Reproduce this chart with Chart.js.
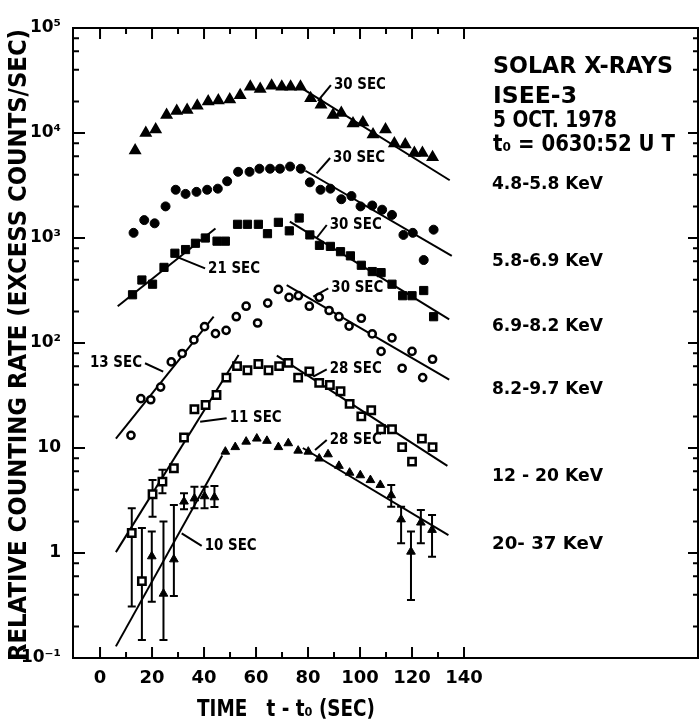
<!DOCTYPE html>
<html>
<head>
<meta charset="utf-8">
<script src="https://cdn.jsdelivr.net/npm/chart.js@4.4.1/dist/chart.umd.min.js"></script>
<style>
body{margin:0;background:#fff}
canvas{display:block}
</style>
</head>
<body>
<canvas id="c" width="699" height="726"></canvas>
<script>
// energy bands, top to bottom
const bandNames = ['4.8-5.8 KeV', '5.8-6.9 KeV', '6.9-8.2 KeV', '8.2-9.7 KeV', '12 - 20 KeV', '20- 37 KeV'];

// time t - t0 (sec) and excess counts/sec
const tBand1 = [13.5, 17.6, 21.4, 25.6, 29.5, 33.5, 37.4, 41.6, 45.5, 49.9, 53.9, 57.8, 61.6, 66, 69.9, 73.3, 77.1, 81, 85, 89.6, 92.8, 97.3, 101.1, 105, 109.8, 113.2, 117.4, 120.9, 124, 127.9];
const rateBand1 = [6800, 10000, 10800, 14800, 16200, 16600, 18200, 20000, 20400, 20900, 22900, 27500, 26300, 28200, 27500, 27500, 27500, 21400, 18600, 14800, 15500, 12300, 12600, 9660, 10800, 7940, 7760, 6460, 6460, 5890];

const tBand2 = [12.9, 17.0, 21.0, 25.2, 29.1, 32.9, 37.1, 41.2, 45.3, 48.9, 53.1, 57.5, 61.3, 65.4, 69.2, 73.1, 77.2, 80.7, 84.8, 88.6, 92.8, 96.7, 100.2, 104.7, 108.5, 112.3, 116.7, 120.3, 124.5, 128.3];
const rateBand2 = [1120, 1480, 1380, 2000, 2880, 2630, 2750, 2880, 2950, 3470, 4270, 4270, 4570, 4570, 4570, 4790, 4570, 3390, 2880, 2950, 2340, 2510, 2000, 2040, 1860, 1660, 1070, 1120, 617, 1200];

const tBand3 = [12.5, 16.1, 20.2, 24.6, 28.8, 32.9, 36.7, 40.5, 45.0, 48.2, 52.9, 56.7, 60.9, 64.4, 68.6, 72.8, 76.6, 80.7, 84.4, 88.6, 92.5, 96.3, 100.5, 104.7, 108.1, 112.3, 116.4, 120.0, 124.5, 128.3];
const rateBand3 = [288, 398, 363, 525, 716, 776, 891, 1000, 933, 933, 1350, 1350, 1350, 1100, 1410, 1170, 1550, 1070, 851, 832, 741, 676, 550, 479, 468, 363, 282, 282, 316, 178];

const tBand4 = [11.9, 15.7, 19.5, 23.3, 27.4, 31.6, 36.1, 40.2, 44.4, 48.5, 52.4, 56.2, 60.6, 64.5, 68.6, 72.7, 76.3, 80.5, 84.3, 88.1, 91.9, 95.8, 100.5, 104.7, 108.1, 112.3, 116.2, 120.0, 124.1, 127.9];
const rateBand4 = [13.2, 29.5, 28.8, 38.0, 66.1, 79.4, 107, 143, 123, 132, 178, 224, 155, 240, 324, 272, 282, 224, 272, 204, 178, 145, 172, 122, 83.2, 112, 57.5, 83.2, 46.8, 70.0];

const tBand5 = [12.2, 16.1, 20.2, 24.0, 28.4, 32.3, 36.3, 40.6, 44.8, 48.6, 52.7, 56.7, 60.9, 64.8, 68.9, 72.4, 76.2, 80.5, 84.3, 88.4, 92.5, 96.0, 100.5, 104.3, 108.1, 112.3, 116.2, 120.0, 123.8, 127.9];
const rateBand5 = [1.55, 0.54, 3.63, 4.79, 6.41, 12.6, 23.4, 25.7, 32.0, 46.8, 60.3, 55.0, 63.1, 55.0, 60.3, 64.6, 46.8, 53.7, 41.7, 39.8, 34.7, 26.3, 20.0, 22.9, 15.1, 15.1, 10.2, 7.41, 12.3, 10.2];

const tBand6 = [19.9, 24.4, 28.4, 32.3, 36.3, 40.2, 44.0, 48.2, 52.0, 56.2, 60.3, 64.2, 68.6, 72.4, 76.2, 80.1, 84.3, 87.7, 91.9, 96.0, 100.1, 104.0, 107.8, 112.0, 115.8, 119.6, 123.4, 127.7];
const rateBand6 = [0.93, 0.41, 0.87, 3.09, 3.31, 3.47, 3.39, 9.23, 10.2, 11.5, 12.3, 11.7, 10.2, 11.1, 9.44, 9.23, 7.94, 8.71, 6.76, 5.82, 5.50, 4.95, 4.45, 3.55, 2.09, 1.03, 1.95, 1.66];

// error bars (low, high)
const errTBand5 = [12.2, 16.1, 20.2, 24.0];
const errLoBand5 = [0.31, 0.148, 2.22, 3.7];
const errHiBand5 = [2.67, 1.73, 4.95, 6.2];

const errTBand6 = [19.9, 24.4, 28.4, 32.3, 36.3, 40.2, 44.0, 112.0, 115.8, 119.6, 123.4, 127.7];
const errLoBand6 = [0.344, 0.148, 0.389, 2.61, 2.67, 2.67, 2.74, 2.76, 1.24, 0.356, 1.24, 0.92];
const errHiBand6 = [1.60, 1.99, 2.86, 3.71, 4.28, 4.28, 4.35, 4.45, 2.76, 1.60, 2.57, 2.30];

// exponential rise / decay fits: start and end points
const fitStartT = [78, 79, 6.8, 73, 6.1, 71.8, 6.1, 68, 6.1, 78];
const fitStartV = [26300, 4370, 224, 1430, 12.3, 355, 1.02, 75.9, 0.129, 10.0];
const fitEndT = [134.5, 135.3, 44.4, 134.3, 43.7, 134.3, 53.3, 133.6, 47, 134];
const fitEndV = [3550, 676, 1230, 168, 178, 44.7, 76.9, 6.76, 8.5, 1.48];

// time-constant notes: text, leader start (at the text) and leader end (on the fit)
const noteText = ['30 SEC', '30 SEC', '30 SEC', '21 SEC', '30 SEC', '13 SEC', '28 SEC', '11 SEC', '28 SEC', '10 SEC'];
const noteT = [88.8, 88.5, 87.2, 40.4, 87.8, 17.3, 87.2, 48.7, 87.2, 39.1];
const noteV = [28600, 5780, 1330, 514, 332, 64.1, 56.2, 19.2, 11.9, 1.17];
const leadT = [83.8, 83.3, 83.3, 29.5, 82, 24.3, 82, 38.5, 82.7, 31.4];
const leadV = [20200, 4130, 1000, 661, 276, 53.3, 47.8, 17.8, 9.57, 1.54];

const xTickVals = [0, 10, 20, 30, 40, 50, 60, 70, 80, 90, 100, 110, 120, 130, 140];
const yDecades = [0.1, 1, 10, 100, 1000, 10000, 100000];
const yDecadeLabels = ['10⁻¹', '1', '10', '10²', '10³', '10⁴', '10⁵'];

const infoLines = ['SOLAR X-RAYS', 'ISEE-3', '5 OCT. 1978', 't₀ = 0630:52 U T'];

const FONT = '"DejaVu Sans", sans-serif';

function pts(ts, vs){
    return ts.map((t, i) => ({x: t, y: vs[i]}));
}

function fitText(ctx, text, x, y, w, size, align, weight){
    ctx.save();
    ctx.font = (weight || '') + ' ' + size + 'px ' + FONT;
    ctx.textBaseline = 'middle';
    ctx.textAlign = 'left';
    const m = ctx.measureText(text).width;
    const k = w / m;
    ctx.translate(align === 'right' ? x - w : x, y);
    ctx.scale(k, 1);
    ctx.fillText(text, 0, 0);
    ctx.restore();
}

const markers = [
    {data: pts(tBand1, rateBand1), pointStyle: 'triangle', pointRadius: 5.5, pointBackgroundColor: '#000', pointBorderWidth: 2},
    {data: pts(tBand2, rateBand2), pointStyle: 'circle', pointRadius: 4.5, pointBackgroundColor: '#000', pointBorderWidth: 1},
    {data: pts(tBand3, rateBand3), pointStyle: 'rect', pointRadius: 5.8, pointBackgroundColor: '#000', pointBorderWidth: 1},
    {data: pts(tBand4, rateBand4), pointStyle: 'circle', pointRadius: 3.6, pointBackgroundColor: '#fff', pointBorderWidth: 2.5},
    {data: pts(tBand5, rateBand5), pointStyle: 'rect', pointRadius: 5.2, pointBackgroundColor: '#fff', pointBorderWidth: 2.5},
    {data: pts(tBand6, rateBand6), pointStyle: 'triangle', pointRadius: 5, pointBackgroundColor: '#000', pointBorderWidth: 1}
].map((d, i) => Object.assign({label: bandNames[i], showLine: false, pointBorderColor: '#000'}, d));

const fits = fitStartT.map((t, i) => ({
    label: 'fit' + i,
    data: [{x: t, y: fitStartV[i]}, {x: fitEndT[i], y: fitEndV[i]}],
    showLine: true,
    borderColor: '#000',
    borderWidth: 2,
    pointRadius: 0
}));

const decor = {
    id: 'decor',
    beforeDatasetsDraw(chart){
        const ctx = chart.ctx, xs = chart.scales.x, ys = chart.scales.y;
        ctx.save();
        ctx.strokeStyle = '#000';
        ctx.lineWidth = 2;
        const bars = [[errTBand5, errLoBand5, errHiBand5], [errTBand6, errLoBand6, errHiBand6]];
        bars.forEach(([ts, lo, hi]) => {
            ts.forEach((t, i) => {
                const x = xs.getPixelForValue(t);
                const y0 = ys.getPixelForValue(lo[i]), y1 = ys.getPixelForValue(hi[i]);
                ctx.beginPath();
                ctx.moveTo(x, y0); ctx.lineTo(x, y1);
                ctx.moveTo(x - 4, y0); ctx.lineTo(x + 4, y0);
                ctx.moveTo(x - 4, y1); ctx.lineTo(x + 4, y1);
                ctx.stroke();
            });
        });
        ctx.restore();
    },
    afterDraw(chart){
        const ctx = chart.ctx, xs = chart.scales.x, ys = chart.scales.y, a = chart.chartArea;
        ctx.save();
        ctx.strokeStyle = '#000';
        ctx.fillStyle = '#000';
        ctx.lineWidth = 2;
        ctx.strokeRect(a.left, a.top, a.right - a.left, a.bottom - a.top);

        // inside ticks
        ctx.beginPath();
        xTickVals.forEach(t => {
            const x = xs.getPixelForValue(t);
            const len = t % 20 === 0 ? 11 : 6;
            ctx.moveTo(x, a.bottom); ctx.lineTo(x, a.bottom - len);
            ctx.moveTo(x, a.top); ctx.lineTo(x, a.top + len);
        });
        yDecades.forEach((d, k) => {
            [1, 2, 4, 6, 8].forEach(m => {
                if (k === yDecades.length - 1 && m > 1) return;
                const y = ys.getPixelForValue(d * m);
                const major = m === 1;
                ctx.moveTo(a.left, y); ctx.lineTo(a.left + (major ? 12 : 6), y);
                ctx.moveTo(a.right, y); ctx.lineTo(a.right - (major ? 10 : 5), y);
            });
        });
        ctx.stroke();

        // time constant notes
        noteText.forEach((txt, i) => {
            const x0 = xs.getPixelForValue(noteT[i]), y0 = ys.getPixelForValue(noteV[i]);
            const x1 = xs.getPixelForValue(leadT[i]), y1 = ys.getPixelForValue(leadV[i]);
            ctx.beginPath();
            ctx.moveTo(x0, y0); ctx.lineTo(x1, y1);
            ctx.stroke();
            const right = x1 > x0;
            fitText(ctx, txt, right ? x0 - 3 : x0 + 3, y0, 52, 16, right ? 'right' : 'left', 'bold');
        });

        // info block and band labels
        const infoY = [67, 97, 121, 145];
        const infoW = [180, 84, 124, 182];
        infoLines.forEach((s, i) => fitText(ctx, s, 493, infoY[i], infoW[i], 23, 'left', 'bold'));
        const bandY = [185, 262, 327, 390, 477, 545];
        bandNames.forEach((s, i) => fitText(ctx, s, 492, bandY[i], 111, 17, 'left', 'bold'));

        // axis titles
        ctx.save();
        ctx.translate(19, 345);
        ctx.rotate(-Math.PI / 2);
        fitText(ctx, 'RELATIVE COUNTING RATE (EXCESS COUNTS/SEC)', -316, 0, 632, 25, 'left', 'bold');
        ctx.restore();
        fitText(ctx, 'TIME   t - t₀ (SEC)', 197, 710, 178, 23, 'left', 'bold');
        ctx.restore();
    }
};

new Chart(document.getElementById('c'), {
    type: 'scatter',
    data: {datasets: markers.concat(fits)},
    options: {
        responsive: false,
        animation: false,
        layout: {autoPadding: false, padding: {top: 28, right: 1, left: 0, bottom: 0}},
        plugins: {legend: {display: false}, tooltip: {enabled: false}},
        scales: {
            x: {
                type: 'linear', min: -10.4, max: 230,
                grid: {display: false, drawTicks: false},
                border: {display: false},
                afterFit: s => { s.height = 68; s.paddingLeft = 0; s.paddingRight = 0; },
                afterBuildTicks: s => { s.ticks = xTickVals.map(v => ({value: v})); },
                ticks: {
                    color: '#000', padding: 10, maxRotation: 0, autoSkip: false,
                    font: {family: FONT, size: 18, weight: 'bold'},
                    callback: v => (v % 20 === 0 ? String(v) : '')
                }
            },
            y: {
                type: 'logarithmic', min: 0.1, max: 100000,
                grid: {display: false, drawTicks: false},
                border: {display: false},
                afterFit: s => { s.width = 73; s.paddingTop = 0; s.paddingBottom = 0; },
                afterBuildTicks: s => { s.ticks = yDecades.map(v => ({value: v})); },
                ticks: {
                    color: '#000', padding: 12, autoSkip: false,
                    font: {family: FONT, size: 17, weight: 'bold'},
                    callback: v => yDecadeLabels[yDecades.indexOf(v)]
                }
            }
        }
    },
    plugins: [decor]
});
</script>
</body>
</html>
